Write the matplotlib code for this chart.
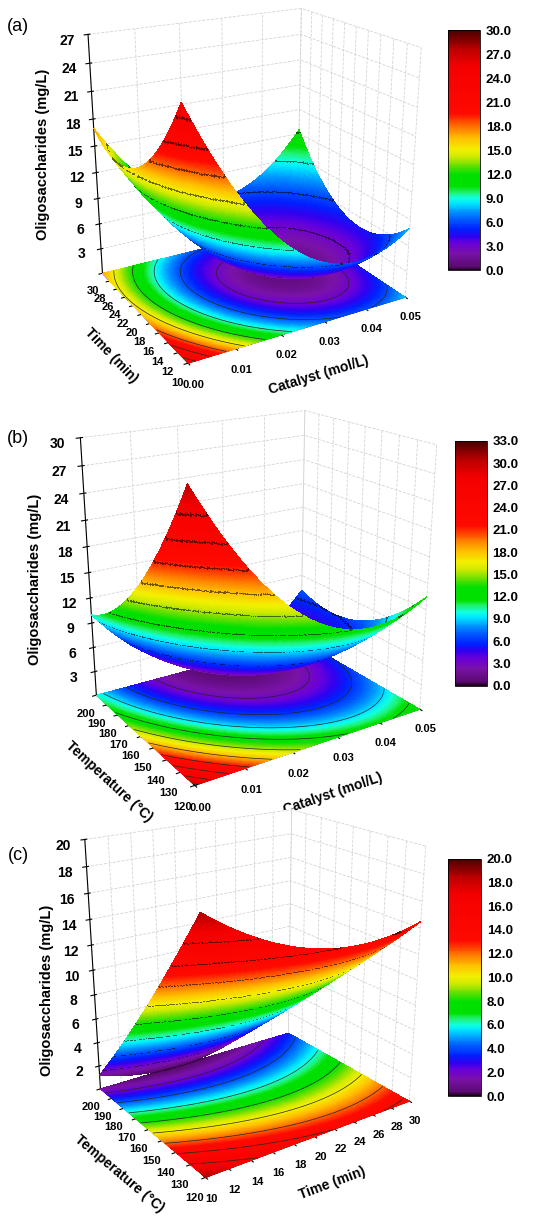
import matplotlib
matplotlib.use("Agg")
import matplotlib.pyplot as plt
import numpy as np
from matplotlib.colors import LinearSegmentedColormap, Normalize
from matplotlib.colorbar import ColorbarBase

plt.rcParams['font.family'] = ['Liberation Sans', 'DejaVu Sans']
plt.rcParams['font.weight'] = 'bold'
plt.rcParams['grid.color'] = '#d4d4d4'
plt.rcParams['grid.linestyle'] = '--'
plt.rcParams['grid.linewidth'] = 0.6

# quadratic response-surface models, factors coded to [-1, 1]
# z = b0 + b1*u + b2*v + b11*u^2 + b22*v^2 + b12*u*v
coef_a = [1.75, -5.5, -1.0, 8.75, 5.25, 3.25]       # u: catalyst, v: time
coef_b = [3.625, -4.875, -6.625, 8.0, 3.5, 3.375]   # u: catalyst, v: temperature
coef_c = [6.65, -0.45, -7.1, 2.2, 0.55, 1.55]       # u: time, v: temperature

catalyst_range = [0.0, 0.05]
time_range = [10, 30]
temp_range = [120, 200]

catalyst_ticks = [0.00, 0.01, 0.02, 0.03, 0.04, 0.05]
time_ticks = [10, 12, 14, 16, 18, 20, 22, 24, 26, 28, 30]
temp_ticks = [120, 130, 140, 150, 160, 170, 180, 190, 200]

z_ticks_a = [3, 6, 9, 12, 15, 18, 21, 24, 27]
z_ticks_b = [3, 6, 9, 12, 15, 18, 21, 24, 27, 30]
z_ticks_c = [2, 4, 6, 8, 10, 12, 14, 16, 18, 20]

cbar_ticks_a = [0, 3, 6, 9, 12, 15, 18, 21, 24, 27, 30]
cbar_ticks_b = [0, 3, 6, 9, 12, 15, 18, 21, 24, 27, 30, 33]
cbar_ticks_c = [0, 2, 4, 6, 8, 10, 12, 14, 16, 18, 20]

levels_a = [3, 6, 9, 12, 15, 18, 21, 24]
levels_b = [3, 6, 9, 12, 15, 18, 21, 24, 27]
levels_c = [2, 4, 6, 8, 10, 12, 14, 16]

# origin-like rainbow palette
stops = [(0.0, '#1a0018'), (0.015, '#5a0a70'), (0.07, '#7a12a8'), (0.11, '#6a00d8'),
         (0.14, '#3000f0'), (0.17, '#0020ff'), (0.21, '#0058ff'), (0.245, '#0098ff'),
         (0.28, '#00e8ff'), (0.30, '#10ffe0'), (0.325, '#20f070'), (0.35, '#00e000'),
         (0.40, '#00e000'), (0.44, '#70e000'), (0.475, '#d0ea00'), (0.505, '#f4f000'),
         (0.55, '#ffc000'), (0.585, '#ff8a00'), (0.62, '#ff4a00'), (0.655, '#ff0a00'),
         (0.85, '#f40000'), (0.92, '#c00000'), (1.0, '#4a0000')]
cmap = LinearSegmentedColormap.from_list('origin_rainbow', stops)

panels = [
    dict(tag='(a)', coef=coef_a, xr=catalyst_range, yr=time_range,
         xt=catalyst_ticks, yt=time_ticks, xfmt='%.2f',
         xlabel='Catalyst (mol/L)', ylabel='Time (min)',
         zlim=(0, 27), zt=z_ticks_a, vmax=30, ct=cbar_ticks_a, lev=levels_a,
         view=(21, -120), aspect=(1.15, 0.95, 1.21), zoom=1.0,
         axpos=[0.025, 0.692, 0.84, 0.33], cbpos=[0.815, 0.778, 0.058, 0.197],
         zl=(0.078, 0.873), tagxy=(0.012, 0.978)),
    dict(tag='(b)', coef=coef_b, xr=catalyst_range, yr=temp_range,
         xt=catalyst_ticks, yt=temp_ticks, xfmt='%.2f',
         xlabel='Catalyst (mol/L)', ylabel='Temperature (\u00b0C)',
         zlim=(0, 30), zt=z_ticks_b, vmax=33, ct=cbar_ticks_b, lev=levels_b,
         view=(20, -123), aspect=(1.2, 0.95, 1.245), zoom=1.06,
         axpos=[0.035, 0.356, 0.84, 0.33], cbpos=[0.827, 0.437, 0.058, 0.201],
         zl=(0.064, 0.524), tagxy=(0.012, 0.640)),
    dict(tag='(c)', coef=coef_c, xr=time_range, yr=temp_range,
         xt=time_ticks, yt=temp_ticks, xfmt='%d',
         xlabel='Time (min)', ylabel='Temperature (\u00b0C)',
         zlim=(0, 20), zt=z_ticks_c, vmax=20, ct=cbar_ticks_c, lev=levels_c,
         view=(21, -125), aspect=(1.14, 0.95, 1.23), zoom=1.02,
         axpos=[0.03, 0.03, 0.84, 0.33], cbpos=[0.815, 0.100, 0.06, 0.195],
         zl=(0.085, 0.187), tagxy=(0.015, 0.298)),
]


def shade_lines(Z, levels, rgba, k=0.45):
    # darken grid cells that a contour level passes through
    out = rgba.copy()
    zmin = np.minimum(Z, np.minimum(np.roll(Z, -1, 0), np.roll(Z, -1, 1)))
    zmax = np.maximum(Z, np.maximum(np.roll(Z, -1, 0), np.roll(Z, -1, 1)))
    for lv in levels:
        m = (zmin <= lv) & (zmax > lv)
        out[m, :3] *= k
    return out


fig = plt.figure(figsize=(5.5, 12.18), dpi=100)

for p in panels:
    b0, b1, b2, b11, b22, b12 = p['coef']
    n = 181
    xs = np.linspace(p['xr'][0], p['xr'][1], n)
    ys = np.linspace(p['yr'][0], p['yr'][1], n)
    X, Y = np.meshgrid(xs, ys)
    U = (X - np.mean(p['xr'])) / (0.5 * (p['xr'][1] - p['xr'][0]))
    V = (Y - np.mean(p['yr'])) / (0.5 * (p['yr'][1] - p['yr'][0]))
    Z = b0 + b1 * U + b2 * V + b11 * U ** 2 + b22 * V ** 2 + b12 * U * V

    norm = Normalize(0, p['vmax'])
    rgba = cmap(norm(Z))

    ax = fig.add_axes(p['axpos'], projection='3d')
    ax.set_facecolor('none')
    ax.computed_zorder = False
    ax.set_proj_type('persp', focal_length=0.45)
    ax.view_init(elev=p['view'][0], azim=p['view'][1])
    ax.set_box_aspect(p['aspect'], zoom=p['zoom'])

    ax.plot_surface(X, Y, np.full_like(Z, p['zlim'][0]), facecolors=rgba,
                    rcount=n, ccount=n, linewidth=0, antialiased=False,
                    shade=False, zorder=1)
    ax.contour(X, Y, Z, levels=p['lev'], zdir='z', offset=p['zlim'][0],
               colors='#252525', linewidths=0.5, zorder=2)
    ax.plot_surface(X, Y, Z, facecolors=shade_lines(Z, p['lev'], rgba),
                    rcount=n, ccount=n, linewidth=0, antialiased=False,
                    shade=False, zorder=3)

    ax.set_xlim(p['xr'])
    ax.set_ylim(p['yr'])
    ax.set_zlim(p['zlim'])
    ax.set_xticks(p['xt'])
    ax.set_xticklabels([p['xfmt'] % t for t in p['xt']])
    ax.set_yticks(p['yt'])
    ax.set_zticks(p['zt'])
    ax.tick_params(axis='x', labelsize=8, pad=-1)
    ax.tick_params(axis='y', labelsize=8, pad=-1)
    ax.tick_params(axis='z', labelsize=10, pad=2)
    ax.set_xlabel(p['xlabel'], fontsize=10, fontweight='bold', labelpad=0)
    ax.set_ylabel(p['ylabel'], fontsize=10, fontweight='bold', labelpad=0)
    for axis in (ax.xaxis, ax.yaxis, ax.zaxis):
        axis.set_pane_color((1, 1, 1, 1))

    fig.text(p['zl'][0], p['zl'][1], 'Oligosaccharides (mg/L)', rotation=90,
             fontsize=10.5, fontweight='bold', ha='center', va='center')
    fig.text(p['tagxy'][0], p['tagxy'][1], p['tag'], fontsize=13,
             fontweight='normal', ha='left', va='center')

    cax = fig.add_axes(p['cbpos'])
    cb = ColorbarBase(cax, cmap=cmap, norm=norm, ticks=p['ct'])
    cb.ax.set_yticklabels(['%.1f' % t for t in p['ct']])
    cb.ax.tick_params(length=0, labelsize=9.5, pad=4)
    cb.outline.set_linewidth(0.6)

fig.savefig('out.png', dpi=100)
